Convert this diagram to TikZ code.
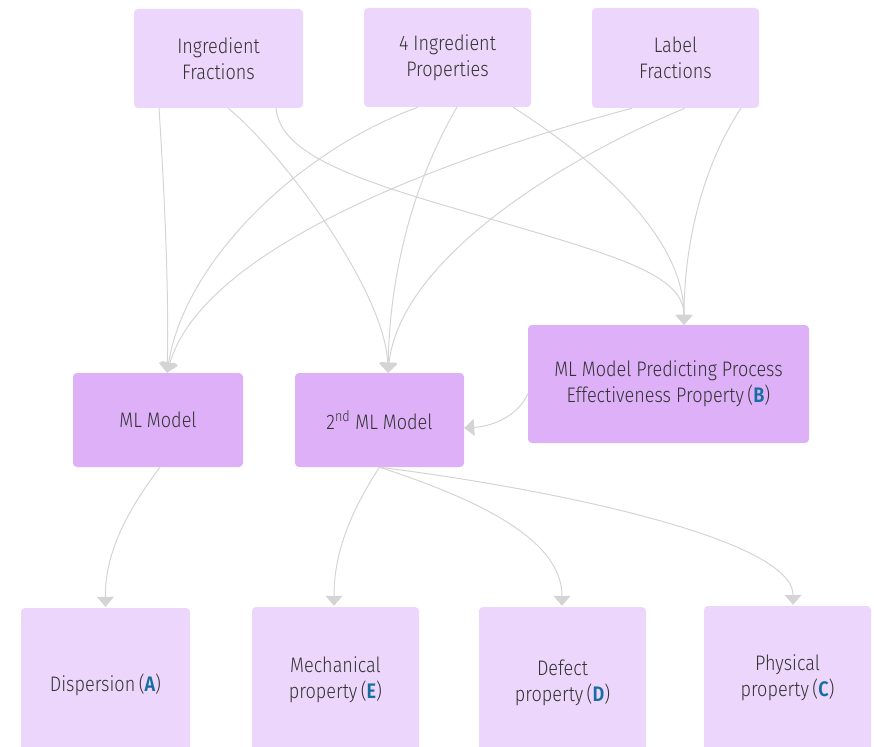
\documentclass[tikz,border=0pt]{standalone}
\usepackage{fontspec}
\IfFontExistsTF{Fira Sans Light}{%
  \setmainfont{Fira Sans Light}[BoldFont=Fira Sans SemiBold, FakeStretch=0.86]}{%
  \setmainfont{Fira Sans}[FakeStretch=0.86]}
\usetikzlibrary{arrows.meta}
\definecolor{lightbox}{HTML}{EDD6FB}
\definecolor{darkbox}{HTML}{DDB0F8}
\definecolor{edgegray}{HTML}{D4D4D4}
\definecolor{txt}{HTML}{333333}
\definecolor{letter}{RGB}{22,110,160}
\newcommand{\lett}[1]{(\textbf{\textcolor{letter}{#1}})}
% text raised inside a tall box whose bottom runs off the page
\newcommand{\lowtext}[2]{\raisebox{#1}[0pt][0pt]{\begin{tabular}{@{}c@{}}#2\end{tabular}}}
\tikzset{
  box/.style={rectangle, rounded corners=4pt, draw=none, align=center, inner sep=0pt,
    text=txt, font=\fontsize{21}{26}\selectfont},
  lbox/.style={box, fill=lightbox},
  dbox/.style={box, fill=darkbox},
  bbox/.style={rectangle, rounded corners=4pt, draw=none, inner sep=0pt, fill=lightbox,
    text=txt, font=\fontsize{21}{26}\selectfont, minimum width=167pt, minimum height=200pt},
  conn/.style={draw=edgegray, line width=1pt,
    -{Triangle[width=17pt,length=10pt,fill=edgegray]}},
}
\begin{document}
\begin{tikzpicture}[x=1pt,y=-1pt]
\useasboundingbox (0,0) rectangle (874,746);
% top row
\node[lbox, minimum width=169pt, minimum height=99pt] (if) at (218.5,58.5) {Ingredient\\Fractions};
\node[lbox, minimum width=167pt, minimum height=99pt] (ip) at (447.5,57.5) {4 Ingredient\\Properties};
\node[lbox, minimum width=167pt, minimum height=100pt] (lf) at (675.5,58) {Label\\Fractions};
% middle row
\node[dbox, minimum width=170pt, minimum height=94pt] (ml) at (158,420) {ML Model};
\node[dbox, minimum width=169pt, minimum height=94pt] (m2) at (379.5,420) {2\textsuperscript{nd} ML Model};
\node[dbox, minimum width=281pt, minimum height=118pt] (mb) at (668.5,384) {ML Model Predicting Process\\Effectiveness Property\,\lett{B}};
% bottom row (boxes run past the lower edge)
\node[bbox, minimum width=169pt] (da) at (105.5,708) {\lowtext{16.75pt}{Dispersion\,\lett{A}}};
\node[bbox] (me) at (335.5,707) {\lowtext{21.75pt}{Mechanical\\property\,\lett{E}}};
\node[bbox] (dd) at (562.5,707) {\lowtext{18.75pt}{Defect\\property\,\lett{D}}};
\node[bbox] (pc) at (787.5,706) {\lowtext{22.75pt}{Physical\\property\,\lett{C}}};
% edges from Ingredient Fractions
\draw[conn] ([xshift=-59.5pt]if.south) .. controls (165,200) and (169,300) .. ([xshift=9pt]ml.north);
\draw[conn] ([xshift=9.5pt]if.south) .. controls (280,150) and (385,290) .. ([xshift=8.5pt]m2.north);
\draw[conn] ([xshift=57.5pt]if.south) .. controls (280,150) and (340,175) .. (450,207)
  .. controls (600,252) and (684,270) .. ([xshift=15.5pt]mb.north);
% edges from 4 Ingredient Properties
\draw[conn] ([xshift=-29.5pt]ip.south) .. controls (300,150) and (185,260) .. ([xshift=9pt]ml.north);
\draw[conn] ([xshift=9.5pt]ip.south) .. controls (420,170) and (390,260) .. ([xshift=8.5pt]m2.north);
\draw[conn] ([xshift=65.5pt]ip.south) .. controls (580,150) and (684,230) .. ([xshift=15.5pt]mb.north);
% edges from Label Fractions
\draw[conn] ([xshift=-43.5pt]lf.south) .. controls (400,170) and (200,260) .. ([xshift=9pt]ml.north);
\draw[conn] ([xshift=9.5pt]lf.south) .. controls (560,160) and (400,260) .. ([xshift=8.5pt]m2.north);
\draw[conn] ([xshift=65.5pt]lf.south) .. controls (700,170) and (684,250) .. ([xshift=15.5pt]mb.north);
% B to 2nd model
\draw[conn] ([yshift=-10pt]mb.west) .. controls (518,415) and (495,426) .. ([yshift=-8pt]m2.east);
% outputs
\draw[conn] ([xshift=2pt]ml.south) .. controls (120,520) and (105,560) .. ([yshift=1pt]da.north);
\draw[conn] (m2.south) .. controls (345,520) and (334,560) .. ([xshift=-1.5pt,yshift=1pt]me.north);
\draw[conn] (m2.south) .. controls (480,500) and (562,540) .. ([xshift=-0.5pt,yshift=1pt]dd.north);
\draw[conn] (m2.south) .. controls (560,490) and (793,540) .. ([xshift=5.5pt,yshift=1pt]pc.north);
\end{tikzpicture}
\end{document}
